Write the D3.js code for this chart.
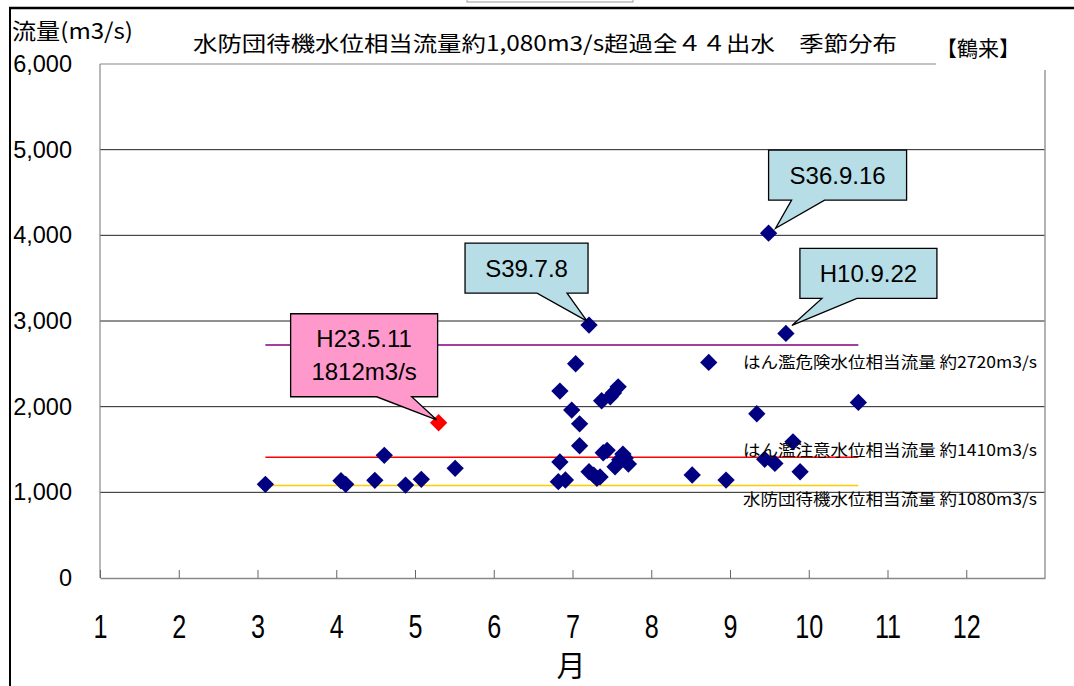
<!DOCTYPE html>
<html><head><meta charset="utf-8">
<script src="https://cdn.jsdelivr.net/npm/d3@7"></script>
<style>
html,body{margin:0;padding:0;background:#fff;}
svg{display:block;}
</style></head>
<body>
<svg id="chart" width="1074" height="686"></svg>
<script>
// ---- data ----
const months = [
  3.10, 4.06, 4.12, 4.49, 4.61, 4.88, 5.08, 5.30, 5.51,
  6.82, 6.84, 6.84, 6.91, 6.99, 7.04, 7.09, 7.09, 7.21, 7.21, 7.27, 7.31, 7.37,
  7.39, 7.44, 7.48, 7.52, 7.54, 7.58, 7.60, 7.64, 7.67, 7.71, 7.35,
  8.52, 8.73, 8.95, 9.34, 9.44, 9.49, 9.57, 9.71, 9.80, 9.89, 10.63
];
const flows = [
  1093, 1135, 1093, 1140, 1432, 1085, 1152, 1812, 1280,
  1124, 2182, 1354, 1144, 1960, 2501, 1800, 1544, 2952, 1240, 1200, 1163, 2069,
  1462, 1490, 2116, 2160, 1299, 2232, 1380, 1447, 1400, 1330, 1180,
  1202, 2517, 1143, 1917, 1385, 4025, 1338, 2855, 1590, 1240, 2050
];
const highlightIndex = 7; // H23.5.11
const refValues = [2720, 1410, 1080];
const refLabels = [
  "はん濫危険水位相当流量 約2720m3/s",
  "はん濫注意水位相当流量 約1410m3/s",
  "水防団待機水位相当流量 約1080m3/s"
];
const calloutIndex = [38, 40, 17, 7];
const calloutLabels = [["S36.9.16"], ["H10.9.22"], ["S39.7.8"], ["H23.5.11", "1812m3/s"]];
const xTicks = [1,2,3,4,5,6,7,8,9,10,11,12];
const yTicks = [0,1000,2000,3000,4000,5000,6000];
const titleText = "水防団待機水位相当流量約1,080m3/s超過全４４出水　季節分布";
const yTitle = "流量(m3/s)";
const xTitle = "月";
const stationText = "【鶴来】";

// ---- layout ----
const svg = d3.select("#chart");
const L = 100, R = 1045, T = 64, B = 578;
const x = d3.scaleLinear().domain([1, 13]).range([L, R]);
const y = d3.scaleLinear().domain([0, 6000]).range([B, T]);
const cjk = "'Noto Sans CJK JP', 'Noto Sans', sans-serif";
const lat = "'Liberation Sans', Arial, sans-serif";

// outer frame
svg.append("rect").attr("x", 467).attr("y", -2).attr("width", 166).attr("height", 4)
  .attr("fill", "none").attr("stroke", "#999").attr("stroke-width", 1);
svg.append("line").attr("x1", 9).attr("x2", 1074).attr("y1", 8).attr("y2", 8)
  .attr("stroke", "#000").attr("stroke-width", 2.5);
svg.append("line").attr("x1", 10).attr("x2", 10).attr("y1", 8).attr("y2", 686)
  .attr("stroke", "#000").attr("stroke-width", 2);

// gridlines
svg.append("g").selectAll("line").data(yTicks.filter(v => v > 0 && v < 6000)).join("line")
  .attr("x1", L).attr("x2", R).attr("y1", d => y(d)).attr("y2", d => y(d))
  .attr("stroke", "#222").attr("stroke-width", 1);

// plot border (top & right, partially covered)
svg.append("line").attr("x1", L).attr("x2", 936).attr("y1", T).attr("y2", T)
  .attr("stroke", "#888").attr("stroke-width", 1.2);
svg.append("line").attr("x1", R).attr("x2", R).attr("y1", 70).attr("y2", B)
  .attr("stroke", "#999").attr("stroke-width", 1.5);
svg.append("line").attr("x1", L).attr("x2", L).attr("y1", T).attr("y2", B)
  .attr("stroke", "#888").attr("stroke-width", 1.2);

// axes
const xAxis = d3.axisBottom(x).tickValues(xTicks).tickSize(-8).tickPadding(36).tickSizeOuter(0);
const gx = svg.append("g").attr("transform", `translate(0,${B})`).call(xAxis);
gx.select(".domain").attr("stroke", "#888").attr("stroke-width", 1.5);
gx.selectAll(".tick line").attr("stroke", "#666");
gx.selectAll(".tick text").attr("font-family", lat)
  .attr("font-size", 34).attr("fill", "#000").attr("transform", "scale(0.74,1)");

const yAxis = d3.axisLeft(y).tickValues(yTicks).tickSize(0).tickPadding(28).tickFormat(d3.format(","));
const gy = svg.append("g").attr("transform", `translate(${L},0)`).call(yAxis);
gy.select(".domain").remove();
gy.selectAll(".tick text").attr("font-family", lat).attr("font-size", 23.5).attr("fill", "#000");

// reference lines spanning data extent
const ext = d3.extent(months);
const refColors = ["#800080", "#ff0000", "#ffcc00"];
svg.append("g").selectAll("line").data(refValues).join("line")
  .attr("x1", x(ext[0])).attr("x2", x(ext[1]))
  .attr("y1", d => y(d)).attr("y2", d => y(d))
  .attr("stroke", (d, i) => refColors[i]).attr("stroke-width", 1.6);

// points
const pts = months.map((m, i) => ({m, f: flows[i], i}));
const sym = d3.symbol().type(d3.symbolSquare).size(150);
svg.append("g").selectAll("path").data(pts).join("path")
  .attr("d", sym)
  .attr("transform", d => `translate(${x(d.m)},${y(d.f)}) rotate(45)`)
  .attr("fill", d => d.i === highlightIndex ? "#ff0000" : "#000080");

// reference labels
const refLabelY = [368, 456, 505];
svg.append("g").selectAll("text").data(refLabels).join("text")
  .attr("x", 743).attr("y", (d, i) => refLabelY[i])
  .attr("font-family", cjk).attr("font-size", 16).attr("fill", "#000")
  .attr("textLength", 294).attr("lengthAdjust", "spacingAndGlyphs")
  .text(d => d);

// callouts (box offsets relative to the point)
const calloutGeom = [
  {bx0: 0, bx1: 138, by0: -83, by1: -33, b0: 23, b1: 56, tx: 7, ty: -5, fill: "#b7dde6"},
  {bx0: 14, bx1: 151, by0: -85, by1: -35, b0: 36, b1: 71, tx: 6, ty: -8, fill: "#b7dde6"},
  {bx0: -124, bx1: -1, by0: -82, by1: -32, b0: -52, b1: -22, tx: -2, ty: -4, fill: "#b7dde6"},
  {bx0: -148, bx1: -1, by0: -109, by1: -26, b0: -62, b1: -27, tx: -2, ty: -3, fill: "#ff99cc"}
];
calloutIndex.forEach((idx, k) => {
  const px = x(months[idx]), py = y(flows[idx]);
  const g = calloutGeom[k];
  const x0 = px + g.bx0, x1 = px + g.bx1, y0 = py + g.by0, y1 = py + g.by1;
  const path = `M${x0},${y0}H${x1}V${y1}H${px + g.b1}L${px + g.tx},${py + g.ty}L${px + g.b0},${y1}H${x0}Z`;
  svg.append("path").attr("d", path).attr("fill", g.fill)
    .attr("stroke", "#000").attr("stroke-width", 1.3).attr("stroke-linejoin", "miter");
  const lines = calloutLabels[k];
  const cx = (x0 + x1) / 2, cy = (y0 + y1) / 2;
  const lh = 33;
  lines.forEach((t, j) => {
    svg.append("text").attr("x", cx).attr("y", cy + (j - (lines.length - 1) / 2) * lh)
      .attr("dy", "0.36em").attr("text-anchor", "middle")
      .attr("font-family", lat).attr("font-size", 24).attr("fill", "#000").text(t);
  });
});

// titles
svg.append("text").attr("x", 12).attr("y", 39).attr("font-family", cjk).attr("font-size", 22)
  .attr("fill", "#000").attr("textLength", 121).attr("lengthAdjust", "spacingAndGlyphs").text(yTitle);
svg.append("text").attr("x", 545).attr("y", 51).attr("text-anchor", "middle")
  .attr("font-family", cjk).attr("font-size", 21).attr("fill", "#000")
  .attr("textLength", 704).attr("lengthAdjust", "spacingAndGlyphs").text(titleText);
svg.append("text").attr("x", 936).attr("y", 56).attr("font-family", cjk).attr("font-size", 21)
  .attr("fill", "#000").text(stationText);
svg.append("text").attr("x", 571).attr("y", 677).attr("text-anchor", "middle")
  .attr("font-family", cjk).attr("font-size", 29).attr("fill", "#000").text(xTitle);
</script>
</body></html>
